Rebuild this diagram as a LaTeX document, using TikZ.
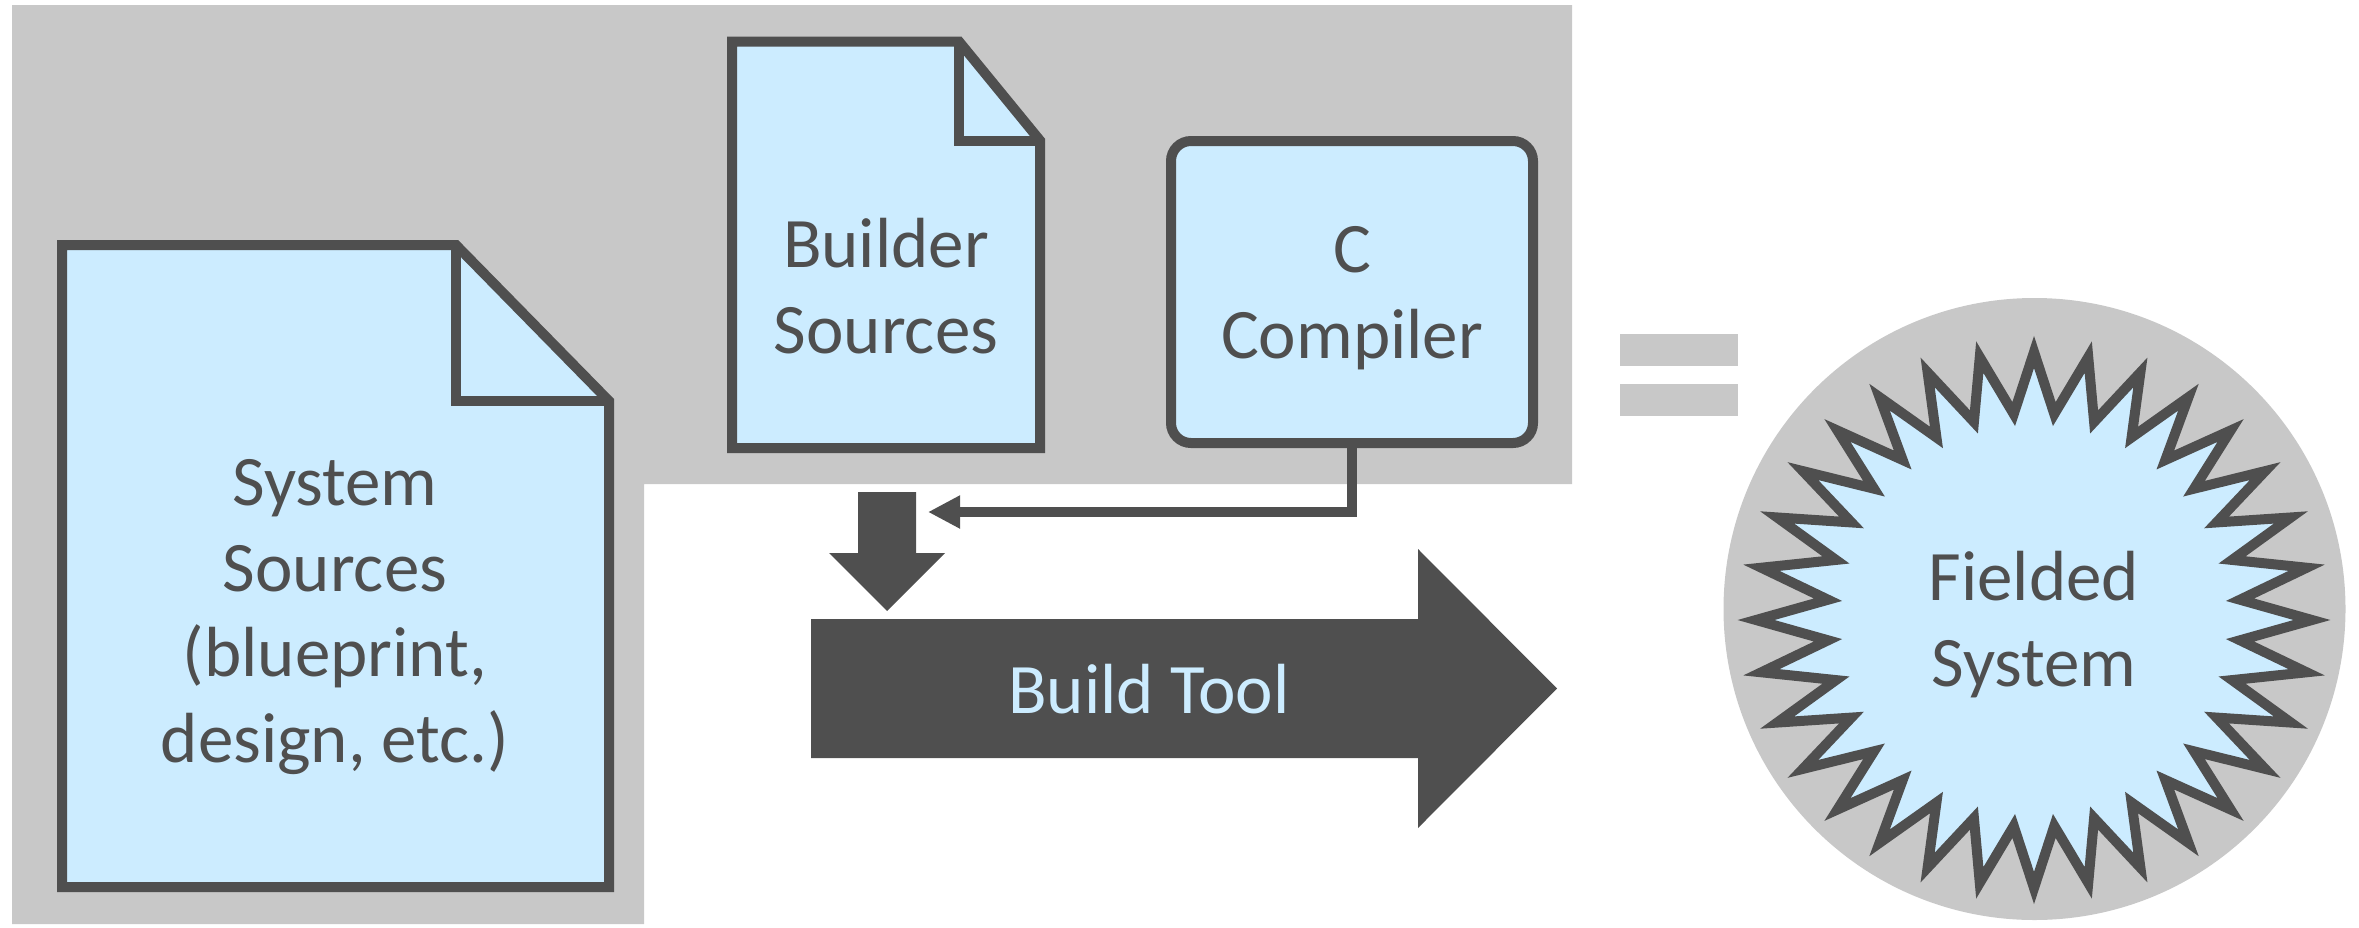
\documentclass[tikz,border=0pt]{standalone}
\usepackage{fontspec}
\setmainfont{Carlito}
\usetikzlibrary{arrows.meta,calc}
\definecolor{bggray}{RGB}{200,200,200}
\definecolor{dark}{RGB}{79,79,79}
\definecolor{lblue}{RGB}{204,236,255}
\begin{document}
\begin{tikzpicture}[x=1pt,y=-1pt,
  outline/.style={fill=lblue, draw=dark, line width=10pt, line join=miter},
  foldline/.style={draw=dark, line width=10pt, line join=miter},
  lbl/.style={font=\fontsize{71}{85.5}\selectfont, text=dark, align=center, inner sep=0pt, anchor=base},
  conn/.style={draw=dark, line width=10pt, -{Triangle[length=32pt,width=31pt]}},
  blockarrow/.style={fill=dark, draw=none},
  greyshape/.style={fill=bggray, draw=none}]
\useasboundingbox (0,0) rectangle (2359,927);
% background L-shaped panel
\fill[greyshape] (12,5) -- (1572,5) -- (1572,484) -- (644,484) -- (644,924) -- (12,924) -- cycle;
% System Sources document
\draw[outline] (62,245) -- (456,245) -- (609,401) -- (609,887) -- (62,887) -- cycle;
\draw[foldline] (456,245) -- (456,401) -- (609,401);
\node[lbl] (syslab) at (335,762) {System\\Sources\\(blueprint,\\design, etc.)};
% Builder Sources document
\draw[outline] (732,41.5) -- (959,41.5) -- (1040,140.5) -- (1040,448) -- (732,448) -- cycle;
\draw[foldline] (959,41.5) -- (959,140.5) -- (1040,140.5);
\node[lbl] (buildsrclab) at (886,353) {Builder\\Sources};
% C Compiler
\node[outline, rounded corners=20pt, minimum width=362pt, minimum height=302pt, inner sep=0pt] (comp) at (1352,292) {};
\node[lbl] (complab) at (1352,358) {C\\Compiler};
% connector from compiler
\coordinate (cin) at (928,512);
\draw[conn] (comp.south) |- (cin);
% down block arrow
\fill[blockarrow] (858,492) -- (916,492) -- (916,553) -- (945,553) -- (887,611) -- (829,553) -- (858,553) -- cycle;
% Build Tool arrow
\fill[blockarrow] (811,619) -- (1418,619) -- (1418,549) -- (1557,688.5) -- (1418,828) -- (1418,758) -- (811,758) -- cycle;
\node[lbl, text=lblue] (buildlab) at (1149,713) {Build Tool};
% equals sign
\fill[greyshape] (1620,334) rectangle (1738,366);
\fill[greyshape] (1620,384) rectangle (1738,416);
% Fielded system
\fill[greyshape] (2034.5,609) circle[radius=311];
\coordinate (fc) at (2034,620);
\draw[outline, shift={(fc)}] (278,0) \foreach \i in {1,...,63}{ -- ({cos(\i*5.625)*ifthenelse(mod(\i,2)==1,207,278)},{sin(\i*5.625)*ifthenelse(mod(\i,2)==1,207,268)}) } -- cycle;
\node[lbl] (fieldlab) at (2034,686) {Fielded\\System};
\end{tikzpicture}
\end{document}
